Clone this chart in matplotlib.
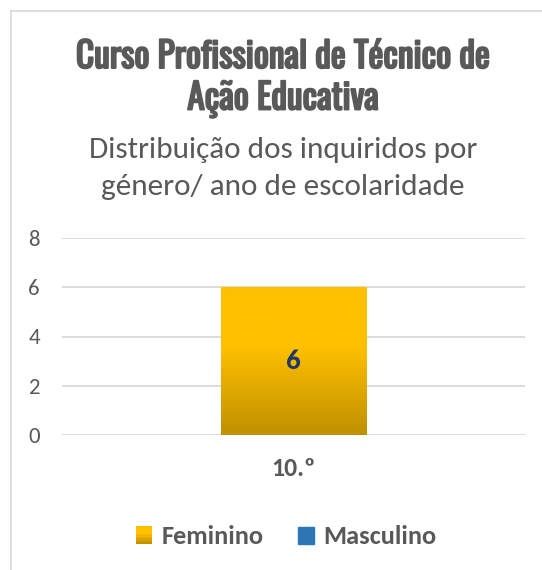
"""Curso Profissional de Técnico de Ação Educativa: inquiridos por género / ano."""

import matplotlib

matplotlib.use("Agg")
import matplotlib.patheffects as pe
import matplotlib.pyplot as plt
import numpy as np
from matplotlib.colors import LinearSegmentedColormap
from matplotlib.legend_handler import HandlerBase
from matplotlib.lines import Line2D
from matplotlib.patches import Patch, Rectangle

categories = ["10.º"]
feminino = [6]
masculino = [0]
y_ticks = [0, 2, 4, 6, 8]

title_lines = ["Curso Profissional de Técnico de", "Ação Educativa"]
subtitle_lines = ["Distribuição dos inquiridos por", "género/ ano de escolaridade"]

text_grey = "#595959"
grid_grey = "#D9D9D9"
gold_top = "#FFC000"
gold_bottom = "#BF9000"
blue = "#2E75B6"
label_navy = "#1F3864"

title_family = ["Oswald", "Barlow Condensed", "DejaVu Sans"]
body_family = ["Carlito", "Open Sans", "DejaVu Sans"]

gold_cmap = LinearSegmentedColormap.from_list(
    "gold", [(0, gold_bottom), (0.6, gold_top), (1, gold_top)])


class GradientHandler(HandlerBase):
    """Legend key filled with the same vertical gold gradient as the bar."""

    def create_artists(self, legend, orig_handle, xdescent, ydescent,
                       width, height, fontsize, trans):
        steps = 12
        pieces = []
        for i in range(steps):
            pieces.append(Rectangle(
                (-xdescent, -ydescent + height * i / steps), width, height / steps + 0.3,
                facecolor=gold_cmap((i + 0.5) / steps), edgecolor="none",
                transform=trans))
        return pieces


fig = plt.figure(figsize=(5.42, 5.70), dpi=100)

# chart frame (top and left edges visible)
fig.add_artist(Line2D([11 / 542, 1], [1 - 11 / 570] * 2, color=grid_grey, lw=1.2))
fig.add_artist(Line2D([11 / 542] * 2, [0, 1 - 11 / 570], color=grid_grey, lw=1.2))

title_font = dict(family=title_family, weight="bold", size=25.5, color=text_grey,
                  ha="center", va="center",
                  path_effects=[pe.withStroke(linewidth=1.4, foreground=text_grey)])
fig.text(0.522, 1 - 57 / 570, title_lines[0], **title_font)
fig.text(0.522, 1 - 99 / 570, title_lines[1], **title_font)

sub_font = dict(family=body_family, size=22.5, color=text_grey, ha="center", va="center")
fig.text(0.522, 1 - 150 / 570, subtitle_lines[0], **sub_font)
fig.text(0.522, 1 - 187 / 570, subtitle_lines[1], **sub_font)

ax = fig.add_axes([62 / 542, 1 - 435 / 570, 463 / 542, 197 / 570])
x = np.arange(len(categories))
bars = ax.bar(x, feminino, width=0.315, color=gold_top, zorder=2)
ax.bar(x, masculino, width=0.315, bottom=feminino, color=blue, zorder=2)

# vertical gradient inside the Feminino bar (flat gold on top, darker at base)
grad = np.linspace(0, 1, 256).reshape(-1, 1)
for bar in bars:
    bx, by = bar.get_x(), bar.get_y()
    bw, bh = bar.get_width(), bar.get_height()
    img = ax.imshow(grad, cmap=gold_cmap, origin="lower", aspect="auto",
                    extent=(bx, bx + bw, by, by + bh), zorder=3)
    img.set_clip_path(bar)
    ax.text(bx + bw / 2, by + bh / 2, f"{bh:g}", ha="center", va="center",
            fontsize=21, fontweight="bold", color=label_navy,
            family=body_family, zorder=4)

ax.set_xlim(-0.5, len(categories) - 0.5)
ax.set_ylim(y_ticks[0], y_ticks[-1])
ax.set_yticks(y_ticks)
ax.set_xticks(x, categories)
ax.tick_params(length=0)
ax.tick_params(axis="y", pad=16, labelsize=16.5, labelcolor=text_grey)
ax.tick_params(axis="x", pad=16, labelsize=18.5, labelcolor=text_grey)
for lab in ax.get_xticklabels():
    lab.set_fontweight("bold")
    lab.set_family(body_family)
for lab in ax.get_yticklabels():
    lab.set_family(body_family)
ax.grid(axis="y", color=grid_grey, lw=1.3, zorder=0)
ax.set_axisbelow(True)
for spine in ax.spines.values():
    spine.set_visible(False)
ax.set_facecolor("none")

fem_key = Patch(color=gold_top, label="Feminino")
masc_key = Patch(color=blue, label="Masculino")
leg = fig.legend(handles=[fem_key, masc_key], loc="center",
                 bbox_to_anchor=(0.528, 1 - 537 / 570),
                 ncol=2, frameon=False, handlelength=0.62, handleheight=0.62,
                 handletextpad=0.35, columnspacing=1.3,
                 handler_map={fem_key: GradientHandler()},
                 prop=dict(family=body_family, weight="bold", size=19))
for t in leg.get_texts():
    t.set_color(text_grey)
    t.set_family(body_family)
    t.set_fontweight("bold")

fig.savefig("out.png", dpi=100, facecolor="white")
